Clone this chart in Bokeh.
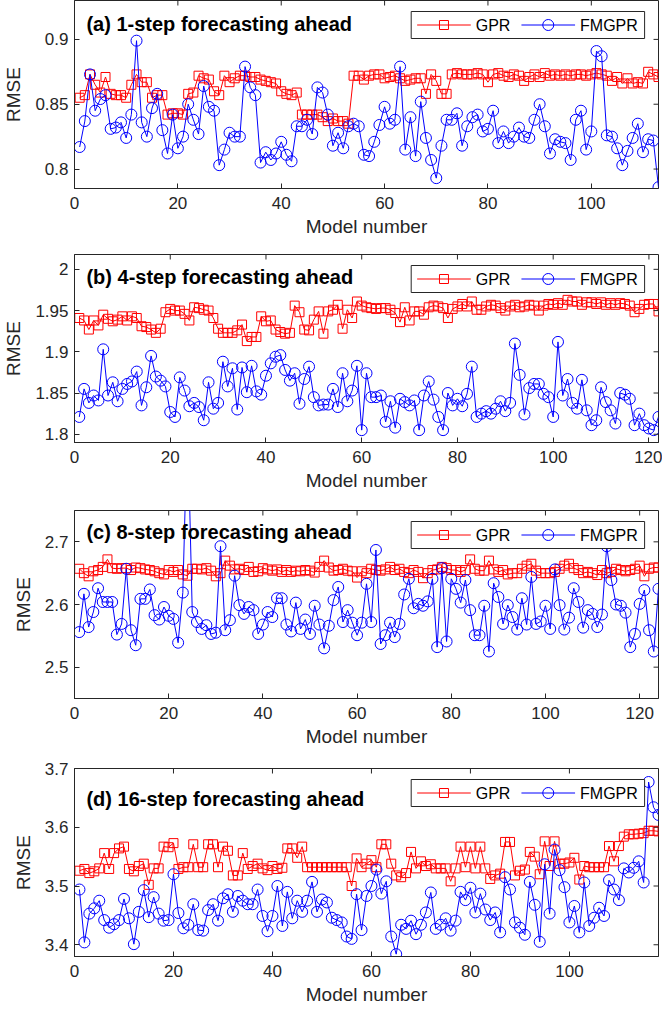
from bokeh.plotting import figure
from bokeh.layouts import column
from bokeh.models import FixedTicker, Label, Range1d
from bokeh.embed import file_html
from bokeh.resources import INLINE

# ---------------- data ----------------
titles = ["(a) 1-step forecasting ahead", "(b) 4-step forecasting ahead",
          "(c) 8-step forecasting ahead", "(d) 16-step forecasting ahead"]
series_names = ["GPR", "FMGPR"]

gpr_a = [0.855, 0.857, 0.873, 0.865, 0.859, 0.871, 0.858, 0.857, 0.857, 0.855,
         0.865, 0.873, 0.867, 0.867, 0.855, 0.857, 0.857, 0.842, 0.843, 0.843,
         0.842, 0.858, 0.859, 0.872, 0.870, 0.869, 0.860, 0.857, 0.872, 0.867,
         0.870, 0.872, 0.872, 0.871, 0.871, 0.869, 0.868, 0.867, 0.866, 0.860,
         0.858, 0.857, 0.859, 0.842, 0.842, 0.842, 0.842, 0.840, 0.837, 0.839,
         0.837, 0.837, 0.835, 0.872, 0.872, 0.869, 0.872, 0.873, 0.873, 0.870,
         0.871, 0.872, 0.870, 0.868, 0.869, 0.870, 0.870, 0.858, 0.873, 0.868,
         0.858, 0.858, 0.873, 0.874, 0.873, 0.873, 0.873, 0.874, 0.873, 0.867,
         0.873, 0.874, 0.872, 0.871, 0.873, 0.872, 0.868, 0.871, 0.873, 0.871,
         0.874, 0.872, 0.873, 0.872, 0.873, 0.872, 0.873, 0.873, 0.872, 0.873,
         0.874, 0.873, 0.872, 0.868, 0.871, 0.866, 0.870, 0.866, 0.867, 0.866,
         0.875, 0.873, 0.871]
fmgpr_a = [0.817, 0.837, 0.873, 0.845, 0.854, 0.857, 0.831, 0.832, 0.836, 0.824,
           0.842, 0.899, 0.836, 0.825, 0.847, 0.858, 0.830, 0.812, 0.842, 0.816,
           0.825, 0.850, 0.838, 0.827, 0.864, 0.848, 0.845, 0.803, 0.815, 0.828,
           0.825, 0.825, 0.879, 0.863, 0.857, 0.805, 0.813, 0.807, 0.812, 0.821,
           0.811, 0.806, 0.833, 0.833, 0.838, 0.827, 0.863, 0.859, 0.842, 0.818,
           0.828, 0.816, 0.833, 0.835, 0.833, 0.811, 0.810, 0.821, 0.834, 0.848,
           0.835, 0.838, 0.879, 0.815, 0.840, 0.810, 0.852, 0.824, 0.807, 0.793,
           0.818, 0.838, 0.838, 0.843, 0.818, 0.833, 0.840, 0.842, 0.829, 0.831,
           0.845, 0.820, 0.829, 0.820, 0.825, 0.832, 0.825, 0.824, 0.838, 0.850,
           0.833, 0.812, 0.823, 0.821, 0.820, 0.807, 0.838, 0.845, 0.815, 0.829,
           0.891, 0.887, 0.826, 0.825, 0.816, 0.803, 0.814, 0.824, 0.835, 0.813,
           0.823, 0.822, 0.786]

gpr_b = [1.941, 1.938, 1.927, 1.938, 1.932, 1.945, 1.940, 1.937, 1.939, 1.943,
         1.938, 1.943, 1.941, 1.931, 1.930, 1.927, 1.923, 1.928, 1.948, 1.952,
         1.950, 1.950, 1.946, 1.938, 1.954, 1.953, 1.951, 1.950, 1.941, 1.928,
         1.923, 1.923, 1.923, 1.926, 1.933, 1.913, 1.918, 1.918, 1.943, 1.937,
         1.938, 1.927, 1.924, 1.922, 1.923, 1.956, 1.948, 1.927, 1.926, 1.939,
         1.949, 1.922, 1.949, 1.951, 1.957, 1.928, 1.951, 1.941, 1.961, 1.956,
         1.954, 1.953, 1.952, 1.953, 1.953, 1.951, 1.947, 1.936, 1.954, 1.938,
         1.949, 1.949, 1.945, 1.954, 1.956, 1.955, 1.953, 1.941, 1.952, 1.955,
         1.958, 1.955, 1.961, 1.951, 1.951, 1.955, 1.957, 1.956, 1.953, 1.950,
         1.955, 1.957, 1.954, 1.955, 1.957, 1.956, 1.950, 1.956, 1.958, 1.957,
         1.959, 1.957, 1.963, 1.961, 1.961, 1.957, 1.960, 1.960, 1.958, 1.960,
         1.957, 1.959, 1.957, 1.959, 1.958, 1.956, 1.948, 1.952, 1.957, 1.958,
         1.958, 1.949]
fmgpr_b = [1.821, 1.855, 1.838, 1.847, 1.841, 1.903, 1.847, 1.863, 1.840, 1.855,
           1.861, 1.864, 1.876, 1.835, 1.857, 1.895, 1.870, 1.865, 1.858, 1.827,
           1.821, 1.869, 1.853, 1.834, 1.838, 1.833, 1.817, 1.863, 1.831, 1.838,
           1.888, 1.858, 1.880, 1.830, 1.881, 1.851, 1.883, 1.852, 1.848, 1.871,
           1.886, 1.894, 1.896, 1.878, 1.865, 1.874, 1.837, 1.867, 1.882, 1.845,
           1.835, 1.836, 1.836, 1.855, 1.833, 1.874, 1.840, 1.853, 1.883, 1.805,
           1.874, 1.845, 1.845, 1.847, 1.815, 1.840, 1.808, 1.843, 1.839, 1.835,
           1.841, 1.805, 1.847, 1.864, 1.842, 1.821, 1.805, 1.850, 1.835, 1.843,
           1.834, 1.849, 1.882, 1.821, 1.825, 1.828, 1.825, 1.831, 1.840, 1.828,
           1.838, 1.910, 1.872, 1.824, 1.856, 1.861, 1.861, 1.849, 1.845, 1.821,
           1.912, 1.847, 1.867, 1.838, 1.831, 1.866, 1.829, 1.811, 1.817, 1.857,
           1.839, 1.829, 1.813, 1.850, 1.848, 1.843, 1.811, 1.825, 1.811, 1.807,
           1.805, 1.821]

gpr_c = [2.657, 2.650, 2.645, 2.653, 2.655, 2.660, 2.672, 2.658, 2.657, 2.658,
         2.658, 2.655, 2.659, 2.658, 2.656, 2.655, 2.653, 2.650, 2.648, 2.655,
         2.652, 2.655, 2.648, 2.646, 2.657, 2.657, 2.656, 2.658, 2.654, 2.645,
         2.650, 2.670, 2.662, 2.656, 2.657, 2.655, 2.660, 2.652, 2.653, 2.658,
         2.656, 2.654, 2.656, 2.652, 2.655, 2.652, 2.654, 2.653, 2.655, 2.654,
         2.651, 2.660, 2.670, 2.659, 2.654, 2.655, 2.657, 2.654, 2.653, 2.643,
         2.653, 2.650, 2.657, 2.655, 2.654, 2.656, 2.660, 2.655, 2.657, 2.652,
         2.650, 2.655, 2.652, 2.642, 2.650, 2.655, 2.656, 2.660, 2.658, 2.655,
         2.655, 2.652, 2.655, 2.672, 2.657, 2.654, 2.654, 2.670, 2.656, 2.652,
         2.655, 2.648, 2.650, 2.650, 2.657, 2.662, 2.665, 2.654, 2.650, 2.650,
         2.650, 2.652, 2.657, 2.662, 2.665, 2.658, 2.655, 2.650, 2.652, 2.650,
         2.647, 2.655, 2.650, 2.652, 2.657, 2.655, 2.653, 2.655, 2.657, 2.662,
         2.645, 2.657, 2.659, 2.659]
fmgpr_c = [2.556, 2.617, 2.564, 2.588, 2.626, 2.604, 2.604, 2.604, 2.552, 2.569,
           2.657, 2.559, 2.535, 2.609, 2.609, 2.624, 2.583, 2.576, 2.596, 2.582,
           2.577, 2.539, 2.619, 2.900, 2.588, 2.572, 2.561, 2.567, 2.553, 2.555,
           2.693, 2.559, 2.575, 2.646, 2.599, 2.585, 2.596, 2.591, 2.553, 2.568,
           2.588, 2.580, 2.610, 2.610, 2.568, 2.557, 2.603, 2.561, 2.576, 2.553,
           2.598, 2.568, 2.530, 2.566, 2.607, 2.628, 2.572, 2.591, 2.571, 2.551,
           2.571, 2.633, 2.572, 2.687, 2.537, 2.551, 2.571, 2.548, 2.569, 2.616,
           2.641, 2.594, 2.601, 2.598, 2.605, 2.641, 2.532, 2.658, 2.541, 2.641,
           2.625, 2.603, 2.639, 2.591, 2.551, 2.551, 2.598, 2.525, 2.634, 2.612,
           2.569, 2.599, 2.580, 2.560, 2.610, 2.568, 2.644, 2.569, 2.573, 2.598,
           2.561, 2.656, 2.599, 2.560, 2.579, 2.626, 2.604, 2.563, 2.591, 2.585,
           2.564, 2.584, 2.693, 2.639, 2.600, 2.598, 2.587, 2.532, 2.553, 2.601,
           2.623, 2.559, 2.525, 2.625]

gpr_d = [3.526, 3.529, 3.522, 3.525, 3.530, 3.556, 3.529, 3.556, 3.564, 3.567,
         3.529, 3.525, 3.534, 3.538, 3.502, 3.530, 3.530, 3.567, 3.566, 3.573,
         3.529, 3.532, 3.532, 3.571, 3.532, 3.532, 3.571, 3.571, 3.532, 3.567,
         3.560, 3.518, 3.518, 3.556, 3.529, 3.534, 3.538, 3.530, 3.527, 3.534,
         3.529, 3.531, 3.564, 3.564, 3.548, 3.567, 3.532, 3.532, 3.532, 3.532,
         3.532, 3.532, 3.532, 3.532, 3.532, 3.500, 3.547, 3.532, 3.538, 3.544,
         3.532, 3.571, 3.571, 3.538, 3.518, 3.515, 3.522, 3.558, 3.530, 3.542,
         3.534, 3.537, 3.530, 3.530, 3.530, 3.508, 3.530, 3.567, 3.532, 3.567,
         3.530, 3.567, 3.530, 3.512, 3.518, 3.521, 3.575, 3.575, 3.518, 3.526,
         3.528, 3.558, 3.550, 3.520, 3.576, 3.534, 3.576, 3.538, 3.538, 3.540,
         3.548, 3.511, 3.534, 3.532, 3.532, 3.532, 3.532, 3.568, 3.542, 3.568,
         3.584, 3.588, 3.588, 3.589, 3.590, 3.594, 3.594, 3.593]
fmgpr_d = [3.494, 3.404, 3.453, 3.462, 3.475, 3.442, 3.429, 3.435, 3.442, 3.478,
           3.445, 3.401, 3.456, 3.493, 3.447, 3.481, 3.453, 3.441, 3.442, 3.520,
           3.454, 3.428, 3.434, 3.469, 3.425, 3.424, 3.459, 3.469, 3.441, 3.479,
           3.486, 3.456, 3.483, 3.475, 3.469, 3.469, 3.494, 3.449, 3.423, 3.449,
           3.500, 3.432, 3.490, 3.445, 3.475, 3.456, 3.475, 3.507, 3.456, 3.477,
           3.472, 3.446, 3.442, 3.438, 3.414, 3.410, 3.486, 3.425, 3.483, 3.500,
           3.528, 3.487, 3.508, 3.414, 3.384, 3.434, 3.427, 3.441, 3.418, 3.434,
           3.455, 3.489, 3.427, 3.434, 3.445, 3.424, 3.441, 3.490, 3.476, 3.497,
           3.455, 3.487, 3.460, 3.442, 3.455, 3.421, 3.515, 3.494, 3.438, 3.429,
           3.417, 3.507, 3.468, 3.405, 3.537, 3.453, 3.562, 3.527, 3.498, 3.438,
           3.466, 3.421, 3.506, 3.432, 3.446, 3.463, 3.449, 3.510, 3.494, 3.476,
           3.530, 3.523, 3.531, 3.542, 3.506, 3.677, 3.634, 3.621]

x_ticks_a = [0, 20, 40, 60, 80, 100]
x_ticks_b = [0, 20, 40, 60, 80, 100, 120]
x_ticks_c = [0, 20, 40, 60, 80, 100, 120]
x_ticks_d = [0, 20, 40, 60, 80, 100]
y_ticks_a = [0.8, 0.85, 0.9]
y_labels_a = ["0.8", "0.85", "0.9"]
y_ticks_b = [1.8, 1.85, 1.9, 1.95, 2.0]
y_labels_b = ["1.8", "1.85", "1.9", "1.95", "2"]
y_ticks_c = [2.5, 2.6, 2.7]
y_labels_c = ["2.5", "2.6", "2.7"]
y_ticks_d = [3.4, 3.5, 3.6, 3.7]
y_labels_d = ["3.4", "3.5", "3.6", "3.7"]

# ---------------- styling ----------------
FONT = "Liberation Sans"
AX = "#262626"
RED = "#ff0000"
BLUE = "#0000ff"
W = 662
BL, BR = 70, 4
FW = W - BL - BR
TICK = 5


def style_axis(ax, ticks):
    ax.ticker = FixedTicker(ticks=ticks)
    ax.axis_line_color = AX
    ax.major_tick_line_color = AX
    ax.major_tick_in = TICK
    ax.major_tick_out = 0
    ax.minor_tick_line_color = None
    ax.major_label_text_font = FONT
    ax.major_label_text_color = AX
    ax.major_label_text_font_size = "17px"


def panel(gpr, fm, xend, ybot, ytop, xticks, yticks, ylabels, title, title_dy, bt, fh, bb):
    x = list(range(1, len(gpr) + 1))
    p = figure(width=W, height=bt + fh + bb, x_range=Range1d(0, xend), y_range=Range1d(ybot, ytop),
               output_backend="svg", toolbar_location=None,
               min_border_left=BL, min_border_right=BR, min_border_top=bt, min_border_bottom=bb)
    p.xgrid.visible = False
    p.ygrid.visible = False
    p.outline_line_color = AX
    p.outline_line_width = 1
    p.background_fill_color = "white"

    # pixel offsets inside the frame -> data units (for decorations only)
    def X(px):
        return xend * px / FW

    def Y(py):  # py measured down from the frame top
        return ytop - (ytop - ybot) * py / fh

    style_axis(p.xaxis[0], xticks)
    style_axis(p.yaxis[0], yticks)
    p.xaxis[0].major_label_standoff = 8
    p.yaxis[0].major_label_standoff = 6
    p.yaxis[0].major_label_overrides = {t: l for t, l in zip(yticks, ylabels)}
    for ax, lab, st in ((p.xaxis[0], "Model number", 4), (p.yaxis[0], "RMSE", 8)):
        ax.axis_label = lab
        ax.axis_label_text_font = FONT
        ax.axis_label_text_font_size = "19px"
        ax.axis_label_text_font_style = "normal"
        ax.axis_label_text_color = AX
        ax.axis_label_standoff = st

    # data series
    p.line(x, gpr, line_color=RED, line_width=1)
    p.scatter(x, gpr, marker="square", size=9, line_color=RED, fill_color=None, line_width=1)
    p.line(x, fm, line_color=BLUE, line_width=1)
    p.scatter(x, fm, marker="circle", size=11, line_color=BLUE, fill_color=None, line_width=1)

    # mirrored inward ticks on the top and right edges of the box
    p.segment(x0=xticks, y0=[ytop] * len(xticks), x1=xticks, y1=[Y(TICK)] * len(xticks),
              line_color=AX, line_width=1)
    p.segment(x0=[xend] * len(yticks), y0=yticks, x1=[X(FW - TICK)] * len(yticks), y1=yticks,
              line_color=AX, line_width=1)

    # legend (drawn by hand: box, line+marker keys, labels)
    ymid = Y(24.5)
    p.quad(left=[X(339)], right=[X(574)], top=[Y(11)], bottom=[Y(38)],
           fill_color="white", line_color=AX, line_width=1)
    p.segment(x0=[X(345)], y0=[ymid], x1=[X(399)], y1=[ymid], line_color=RED, line_width=1)
    p.scatter([X(372)], [ymid], marker="square", size=9, line_color=RED, fill_color=None, line_width=1)
    p.segment(x0=[X(450)], y0=[ymid], x1=[X(504)], y1=[ymid], line_color=BLUE, line_width=1)
    p.scatter([X(477)], [ymid], marker="circle", size=11, line_color=BLUE, fill_color=None, line_width=1)
    for px, name in ((404, series_names[0]), (509, series_names[1])):
        p.add_layout(Label(x=X(px), y=ymid, text=name, text_font=FONT, text_font_size="16px",
                           text_color="black", text_baseline="middle"))

    p.add_layout(Label(x=X(12), y=Y(title_dy),
                       text=title, text_font=FONT, text_font_size="20px",
                       text_font_style="bold", text_color="black", text_baseline="middle"))
    return p


pa = panel(gpr_a, fmgpr_a, 113, 0.785, 0.93, x_ticks_a, y_ticks_a, y_labels_a, titles[0], 23, 0, 188, 56)
pb = panel(gpr_b, fmgpr_b, 122, 1.79, 2.018, x_ticks_b, y_ticks_b, y_labels_b, titles[1], 22, 10, 188, 56)
pc = panel(gpr_c, fmgpr_c, 124, 2.45, 2.75, x_ticks_c, y_ticks_c, y_labels_c, titles[2], 21, 12, 188, 56)
pd = panel(gpr_d, fmgpr_d, 118, 3.38, 3.70, x_ticks_d, y_ticks_d, y_labels_d, titles[3], 30, 14, 188, 57)

layout = column(pa, pb, pc, pd)
open("out.html", "w").write(file_html(layout, INLINE))
